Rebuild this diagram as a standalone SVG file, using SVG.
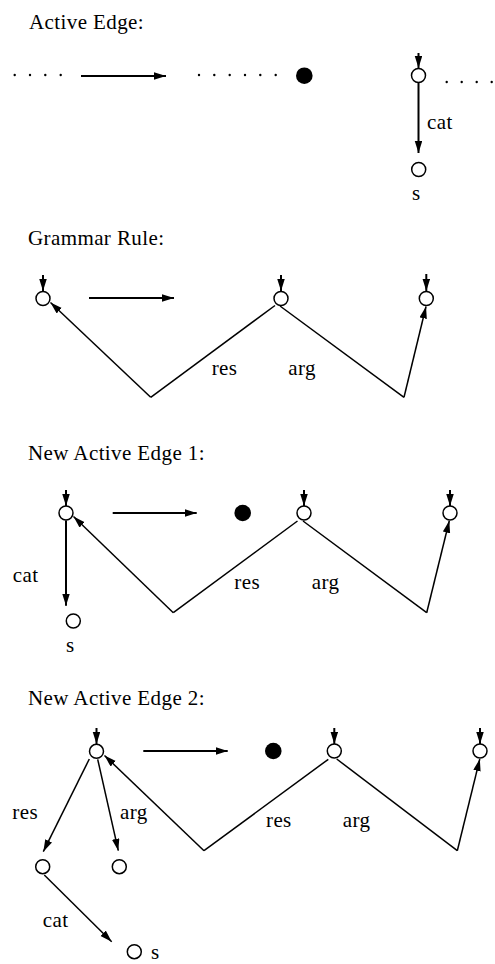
<svg xmlns="http://www.w3.org/2000/svg" width="495" height="964" viewBox="0 0 495 964" font-family="'Liberation Serif', 'DejaVu Serif', serif">
<defs>
<marker id="ah" markerUnits="userSpaceOnUse" markerWidth="13" markerHeight="8" refX="12" refY="3.75" orient="auto">
<path d="M0,0 L12,3.75 L0,7.5 z" fill="#000"/>
</marker>
<style>
text{font-family:'Liberation Serif','DejaVu Serif',serif;font-size:21px;fill:#000;letter-spacing:0.4px}
.n{fill:#fff;stroke:#000;stroke-width:1.5}
.f{fill:#000}
.d{fill:#000}
.c{stroke:#000;fill:none;stroke-width:1.5}
.t{stroke:#000;fill:none;stroke-width:2}
.a{marker-end:url(#ah)}
</style>
</defs>
<rect width="495" height="964" fill="#fff"/>

<!-- Titles -->
<text x="29" y="29">Active Edge:</text>
<text x="28" y="245">Grammar Rule:</text>
<text x="28" y="460">New Active Edge 1:</text>
<text x="28" y="705">New Active Edge 2:</text>

<!-- Section 1 -->
<g id="dots1">
<circle class="d" cx="14.7" cy="75" r="1.2"/><circle class="d" cx="30" cy="75" r="1.2"/><circle class="d" cx="45.3" cy="75" r="1.2"/><circle class="d" cx="60.7" cy="75" r="1.2"/>
</g>
<g id="dots2">
<circle class="d" cx="199" cy="75" r="1.2"/><circle class="d" cx="214.3" cy="75" r="1.2"/><circle class="d" cx="229.7" cy="75" r="1.2"/><circle class="d" cx="245" cy="75" r="1.2"/><circle class="d" cx="260.3" cy="75" r="1.2"/><circle class="d" cx="275.7" cy="75" r="1.2"/>
</g>
<g id="dot1"><circle class="f" cx="304.3" cy="75.7" r="8.3"/></g>
<g id="s1n1"><circle class="n" cx="418.5" cy="75.5" r="7"/></g>
<g id="dots3">
<circle class="d" cx="446.7" cy="82" r="1.2"/><circle class="d" cx="461.7" cy="82" r="1.2"/><circle class="d" cx="476.7" cy="82" r="1.2"/><circle class="d" cx="491.7" cy="82" r="1.2"/>
</g>
<g id="s1n2"><circle class="n" cx="418.7" cy="169.5" r="7"/><text x="412" y="200">s</text></g>

<!-- Section 2 -->
<g id="s2A"><circle class="n" cx="43" cy="298.5" r="7"/></g>
<g id="s2B"><circle class="n" cx="281" cy="298.5" r="7"/></g>
<g id="s2C"><circle class="n" cx="426.3" cy="298.5" r="7"/></g>

<!-- Section 3 -->
<g id="s3A"><circle class="n" cx="66" cy="513" r="7"/></g>
<g id="s3dot"><circle class="f" cx="242.7" cy="513" r="8.3"/></g>
<g id="s3B"><circle class="n" cx="304" cy="513" r="7"/></g>
<g id="s3C"><circle class="n" cx="450" cy="513" r="7"/></g>
<g id="s3S"><circle class="n" cx="73.3" cy="621" r="7"/><text x="66" y="651.7">s</text></g>

<!-- Section 4 -->
<g id="s4A"><circle class="n" cx="96.5" cy="751.3" r="7"/></g>
<g id="s4dot"><circle class="f" cx="273.3" cy="751" r="8.3"/></g>
<g id="s4B"><circle class="n" cx="334.3" cy="751" r="7"/></g>
<g id="s4C"><circle class="n" cx="480" cy="751" r="7"/></g>
<g id="s4R"><circle class="n" cx="42.7" cy="866.7" r="7"/></g>
<g id="s4G"><circle class="n" cx="119.3" cy="866.7" r="7"/></g>
<g id="s4S"><circle class="n" cx="134.3" cy="951.7" r="7"/><text x="151" y="959">s</text></g>

<g id="connectors">
<!-- Section 1 -->
<line class="t a" x1="81" y1="76" x2="166" y2="76"/>
<line class="t a" x1="418.5" y1="53" x2="418.5" y2="68"/>
<line class="t a" x1="418.5" y1="83" x2="418.5" y2="153"/>
<text x="427" y="129">cat</text>

<!-- Section 2 -->
<line class="t a" x1="43" y1="275" x2="43" y2="291"/>
<line class="t a" x1="281" y1="275" x2="281" y2="291"/>
<line class="t a" x1="426.3" y1="274" x2="426.3" y2="291"/>
<line class="t a" x1="89" y1="298" x2="174" y2="298"/>
<line class="c a" x1="150.7" y1="397.3" x2="50.5" y2="302.5"/>
<polyline class="c" points="150.7,397.3 275,305.5"/>
<polyline class="c" points="280,306 404,397.3"/>
<line class="c a" x1="404" y1="397.3" x2="426" y2="306.5"/>
<text x="211.7" y="375">res</text>
<text x="288.3" y="375">arg</text>

<!-- Section 3 -->
<line class="t a" x1="66" y1="490" x2="66" y2="506"/>
<line class="t a" x1="304" y1="490" x2="304" y2="506"/>
<line class="t a" x1="450" y1="490" x2="450" y2="506"/>
<line class="t a" x1="112.7" y1="513" x2="196.7" y2="513"/>
<line class="t a" x1="66" y1="520.5" x2="66" y2="605.7"/>
<text x="12.7" y="581.7">cat</text>
<line class="c a" x1="173.3" y1="612.7" x2="73.5" y2="516.5"/>
<polyline class="c" points="173.3,612.7 297.5,521"/>
<polyline class="c" points="303,521 426.7,612.7"/>
<line class="c a" x1="426.7" y1="612.7" x2="449.3" y2="520.8"/>
<text x="234.3" y="589">res</text>
<text x="311.7" y="589">arg</text>

<!-- Section 4 -->
<line class="t a" x1="96.5" y1="728" x2="96.5" y2="744"/>
<line class="t a" x1="334.3" y1="728" x2="334.3" y2="744"/>
<line class="t a" x1="480" y1="728" x2="480" y2="744"/>
<line class="t a" x1="143.3" y1="751" x2="227.7" y2="751"/>
<line class="c a" x1="89.3" y1="759" x2="43.3" y2="851.7"/>
<line class="c a" x1="97.7" y1="759.3" x2="118.3" y2="850.7"/>
<text x="12.3" y="819.3">res</text>
<text x="120" y="819.3">arg</text>
<line class="c a" x1="44.3" y1="875" x2="111.7" y2="941.7"/>
<text x="42.7" y="927.3">cat</text>
<line class="c a" x1="204" y1="850.7" x2="104.5" y2="755.5"/>
<polyline class="c" points="204,850.7 328.3,759.3"/>
<polyline class="c" points="336.7,759 457.3,850.7"/>
<line class="c a" x1="457.3" y1="850.7" x2="479.8" y2="759"/>
<text x="266" y="827.3">res</text>
<text x="342.7" y="827.3">arg</text>
</g>
</svg>
